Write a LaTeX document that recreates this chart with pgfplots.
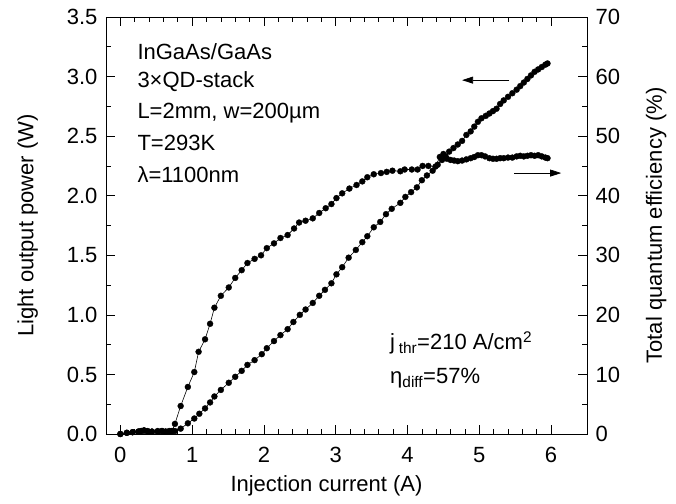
\documentclass[border=0pt]{standalone}
\usepackage{fontspec}
\setmainfont{Liberation Sans}
\usepackage{pgfplots}
\pgfplotsset{compat=1.18}
\usetikzlibrary{arrows.meta}

\pgfplotsset{
  common/.style={
    at={(0,0)}, anchor=south west,
    scale only axis, width=481bp, height=417bp,
    xmin=-0.2, xmax=6.5,
    tick align=inside,
    major tick length=9bp, minor tick length=5bp,
    every tick/.style={black, line width=0.7bp},
    axis line style={line width=0.8bp},
    /pgf/number format/assume math mode=true,
    tick label style={font=\fontsize{22bp}{26bp}\selectfont},
    label style={font=\fontsize{22bp}{26bp}\selectfont},
  },
  datastyle/.style={black, line width=0.6bp, mark=*, mark size=3bp, mark options={fill=black, draw=black, line width=0.3bp}},
}

\begin{document}
\begin{tikzpicture}[font=\fontsize{22bp}{26bp}\selectfont]
\useasboundingbox (-106bp,-70bp) rectangle (570bp,434bp);
\begin{axis}[common,
  ymin=0, ymax=3.5,
  xtick={0,1,2,3,4,5,6}, minor x tick num=4,
  xtick pos=both,
  ytick={0,0.5,1,1.5,2,2.5,3,3.5}, minor y tick num=1,
  ytick pos=left,
  yticklabel style={xshift=-5bp, /pgf/number format/.cd, fixed, fixed zerofill, precision=1},
  xticklabel style={yshift=-10bp},
  xlabel={Injection current (A)},
  ylabel={Light output power (W)},
  xlabel style={yshift=-6bp, xshift=-20bp},
  ylabel style={yshift=22bp},
]
\addplot[datastyle] coordinates {
(0.00,0.000) (0.09,0.010) (0.17,0.015) (0.25,0.020) (0.29,0.025) (0.33,0.030)
(0.38,0.020) (0.44,0.020) (0.52,0.020) (0.58,0.025) (0.63,0.020) (0.68,0.020)
(0.72,0.025) (0.76,0.025) (0.84,0.045) (0.94,0.090) (1.03,0.130) (1.10,0.170)
(1.18,0.215) (1.25,0.265) (1.31,0.315) (1.40,0.370) (1.51,0.430) (1.60,0.480)
(1.69,0.530) (1.77,0.580) (1.87,0.620) (1.97,0.670) (2.04,0.720) (2.14,0.780)
(2.23,0.830) (2.33,0.880) (2.41,0.940) (2.50,1.000) (2.58,1.045) (2.68,1.100)
(2.77,1.160) (2.85,1.210) (2.94,1.265) (3.01,1.340) (3.09,1.400) (3.18,1.480)
(3.28,1.545) (3.37,1.610) (3.44,1.660) (3.53,1.735) (3.62,1.780) (3.70,1.845)
(3.78,1.890) (3.90,1.940) (3.97,1.990) (4.05,2.030) (4.13,2.070) (4.20,2.130)
(4.27,2.170) (4.35,2.210) (4.42,2.260) (4.48,2.300) (4.53,2.330) (4.58,2.370)
(4.64,2.400) (4.70,2.430) (4.76,2.460) (4.82,2.510) (4.88,2.540) (4.93,2.580)
(4.98,2.620) (5.03,2.650) (5.09,2.670) (5.14,2.690) (5.19,2.710) (5.24,2.730)
(5.29,2.770) (5.34,2.800) (5.40,2.830) (5.46,2.860) (5.52,2.890) (5.57,2.920)
(5.62,2.950) (5.67,2.980) (5.72,3.010) (5.77,3.040) (5.82,3.060) (5.87,3.080)
(5.92,3.100) (5.95,3.110)
};
\node[anchor=west] at (axis cs:0.19,3.207) {InGaAs/GaAs};
\node[anchor=west] at (axis cs:0.19,2.955) {3×QD-stack};
\node[anchor=west] at (axis cs:0.19,2.695) {L=2mm, w=200µm};
\node[anchor=west] at (axis cs:0.19,2.443) {T=293K};
\node[anchor=west] at (axis cs:0.19,2.175) {λ=1100nm};
\node[anchor=west] at (axis cs:3.71,0.764) {j\,\textsubscript{thr}=210 A/cm\textsuperscript{2}};
\node[anchor=west] at (axis cs:3.71,0.470) {η\textsubscript{diff}=57\%};
\draw[line width=0.7bp, -{Stealth[length=11bp, width=7bp, inset=0bp]}] (axis cs:5.42,2.97) -- (axis cs:4.76,2.97);
\draw[line width=0.7bp, -{Stealth[length=11bp, width=7bp, inset=0bp]}] (axis cs:5.49,2.19) -- (axis cs:6.14,2.19);
\end{axis}
\begin{axis}[common,
  ymin=0, ymax=70,
  axis x line=none,
  axis y line*=right,
  ytick={0,10,20,30,40,50,60,70}, minor y tick num=1,
  yticklabel style={xshift=5bp},
  ylabel={Total quantum efficiency (\%)},
  ylabel style={yshift=-19bp},
]
\addplot[datastyle] coordinates {
(0.00,0.0) (0.09,0.2) (0.17,0.3) (0.25,0.4) (0.29,0.5) (0.33,0.6)
(0.38,0.5) (0.44,0.4) (0.52,0.5) (0.58,0.5) (0.63,0.4) (0.68,0.5)
(0.72,0.5) (0.76,1.7) (0.84,4.7) (0.94,7.9) (1.03,10.4) (1.09,13.8)
(1.18,15.9) (1.25,18.5) (1.31,21.2) (1.40,23.2) (1.51,24.6) (1.60,26.2)
(1.69,27.5) (1.77,28.7) (1.87,29.4) (1.96,30.0) (2.04,31.2) (2.14,32.0)
(2.23,32.9) (2.33,33.4) (2.42,34.5) (2.49,35.5) (2.58,35.8) (2.68,36.2)
(2.77,37.1) (2.86,37.9) (2.94,38.6) (3.01,39.6) (3.09,40.4) (3.19,41.2)
(3.29,41.8) (3.37,42.4) (3.44,43.1) (3.53,43.6) (3.63,43.8) (3.71,44.0)
(3.79,44.2) (3.90,44.1) (3.96,44.4) (4.06,44.4) (4.14,44.4) (4.21,45.0)
(4.29,45.0) (4.39,44.9) (4.45,46.5) (4.50,47.0) (4.55,46.2) (4.60,46.0)
(4.65,45.9) (4.70,45.8) (4.76,45.9) (4.82,46.1) (4.88,46.3) (4.93,46.5)
(4.98,46.8) (5.03,46.8) (5.08,46.6) (5.14,46.3) (5.19,46.2) (5.24,46.2)
(5.29,46.3) (5.34,46.3) (5.40,46.4) (5.46,46.4) (5.52,46.6) (5.57,46.7)
(5.62,46.6) (5.67,46.7) (5.72,46.8) (5.77,46.7) (5.82,46.8) (5.87,46.6)
(5.92,46.4) (5.95,46.3)
};
\end{axis}
\end{tikzpicture}
\end{document}
